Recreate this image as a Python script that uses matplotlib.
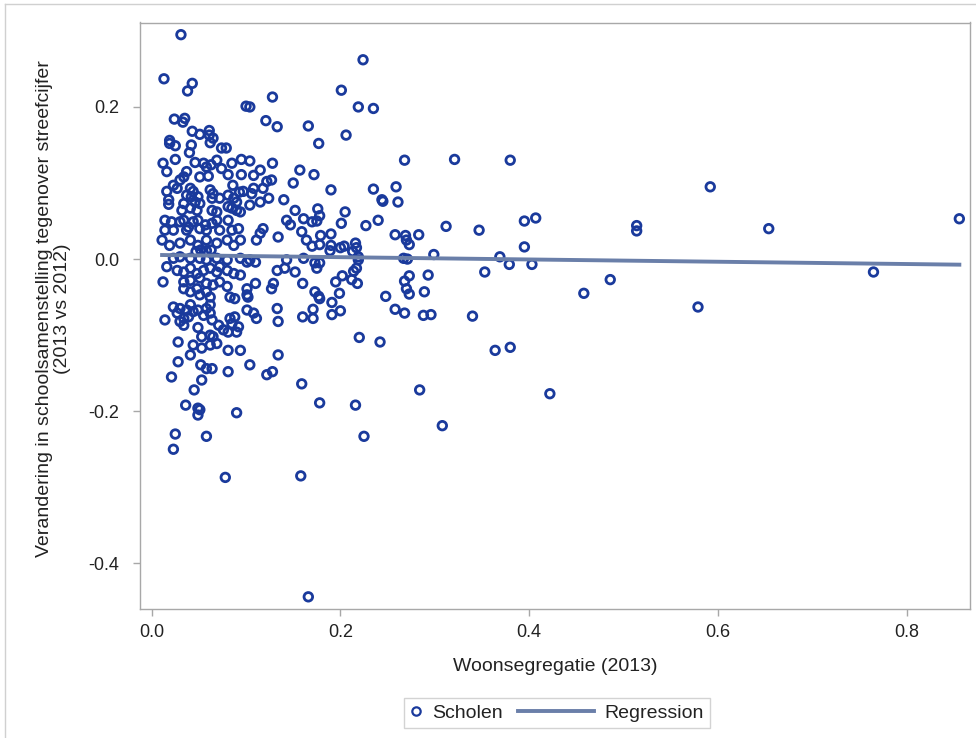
import matplotlib
matplotlib.use("Agg")
import matplotlib.pyplot as plt
import numpy as np
from matplotlib.legend_handler import HandlerLine2D
from matplotlib.lines import Line2D

plt.rcParams['font.family'] = ['Liberation Sans', 'DejaVu Sans']
plt.rcParams['axes.unicode_minus'] = False

# schools in groups
# x = Woonsegregatie (2013), y = change vs target (2013 vs 2012)
top_x = [0.031, 0.013, 0.043, 0.038, 0.128, 0.100, 0.104, 0.024, 0.035, 0.033,
         0.121, 0.133, 0.043, 0.051, 0.061, 0.061, 0.019, 0.065]
top_y = [0.295, 0.237, 0.231, 0.221, 0.213, 0.201, 0.200, 0.184, 0.185, 0.180,
         0.182, 0.174, 0.168, 0.164, 0.169, 0.163, 0.156, 0.159]

upper_x = [0.062, 0.019, 0.025, 0.042, 0.074, 0.079, 0.040, 0.025, 0.012, 0.016,
           0.046, 0.055, 0.058, 0.063, 0.069, 0.085, 0.095, 0.104, 0.128, 0.074,
           0.051, 0.060, 0.081, 0.095, 0.108, 0.115, 0.150, 0.122, 0.127, 0.108,
           0.086, 0.093, 0.030, 0.037, 0.034, 0.023, 0.027, 0.016, 0.018, 0.018,
           0.041, 0.044, 0.037, 0.042, 0.049, 0.046, 0.051, 0.062, 0.065, 0.064,
           0.072, 0.081, 0.097, 0.106, 0.118, 0.087, 0.090, 0.104, 0.115, 0.124,
           0.140, 0.064, 0.069, 0.081, 0.085, 0.090, 0.094, 0.034, 0.032, 0.041,
           0.048, 0.152, 0.143, 0.147, 0.118, 0.115, 0.134, 0.111]
upper_y = [0.153, 0.152, 0.149, 0.150, 0.146, 0.146, 0.140, 0.131, 0.126, 0.115,
           0.127, 0.126, 0.121, 0.124, 0.130, 0.126, 0.131, 0.129, 0.126, 0.119,
           0.108, 0.109, 0.111, 0.111, 0.110, 0.117, 0.100, 0.102, 0.104, 0.093,
           0.097, 0.088, 0.104, 0.115, 0.108, 0.097, 0.093, 0.089, 0.078, 0.072,
           0.093, 0.089, 0.084, 0.082, 0.082, 0.075, 0.073, 0.091, 0.086, 0.080,
           0.080, 0.084, 0.089, 0.086, 0.093, 0.080, 0.075, 0.071, 0.075, 0.080,
           0.078, 0.064, 0.062, 0.069, 0.067, 0.064, 0.062, 0.073, 0.064, 0.067,
           0.064, 0.064, 0.051, 0.045, 0.040, 0.034, 0.029, 0.025]

band_x = [0.014, 0.014, 0.021, 0.023, 0.030, 0.034, 0.037, 0.039, 0.044, 0.049,
          0.051, 0.057, 0.058, 0.064, 0.069, 0.072, 0.081, 0.085, 0.092, 0.094,
          0.011, 0.019, 0.030, 0.041, 0.049, 0.058, 0.069, 0.080, 0.087, 0.052,
          0.058, 0.063, 0.047]
band_y = [0.051, 0.038, 0.049, 0.038, 0.049, 0.051, 0.038, 0.042, 0.049, 0.051,
          0.040, 0.045, 0.038, 0.047, 0.051, 0.038, 0.051, 0.038, 0.040, 0.025,
          0.025, 0.018, 0.021, 0.025, 0.018, 0.025, 0.021, 0.025, 0.018, 0.012,
          0.011, 0.012, 0.010]

lower_x = [0.023, 0.030, 0.041, 0.051, 0.058, 0.069, 0.080, 0.094, 0.104, 0.110,
           0.143, 0.161, 0.016, 0.012, 0.027, 0.034, 0.041, 0.048, 0.055, 0.062,
           0.069, 0.072, 0.080, 0.087, 0.094, 0.101, 0.133, 0.141, 0.152, 0.129,
           0.127, 0.110, 0.101, 0.101, 0.102, 0.034, 0.041, 0.051, 0.058, 0.065,
           0.072, 0.080, 0.083, 0.088, 0.034, 0.041, 0.048, 0.051, 0.058, 0.062,
           0.023, 0.030, 0.027, 0.037, 0.041, 0.034, 0.030, 0.034, 0.039, 0.044,
           0.049, 0.058, 0.055, 0.062, 0.064, 0.071, 0.083, 0.088, 0.085, 0.092,
           0.090, 0.076, 0.081, 0.014, 0.062, 0.049, 0.053, 0.062, 0.065, 0.069,
           0.062, 0.028, 0.044, 0.041, 0.053, 0.028, 0.081, 0.094, 0.052, 0.058,
           0.064, 0.081, 0.104, 0.122, 0.128, 0.134, 0.133, 0.134, 0.101, 0.108,
           0.111, 0.021, 0.053]
lower_y = [0.001, 0.003, 0.001, 0.001, -0.001, 0.001, -0.001, 0.001, -0.001, -0.004,
           -0.001, 0.001, -0.010, -0.030, -0.015, -0.017, -0.012, -0.019, -0.015, -0.012,
           -0.017, -0.010, -0.015, -0.019, -0.021, -0.004, -0.015, -0.012, -0.017, -0.032,
           -0.039, -0.032, -0.039, -0.047, -0.050, -0.030, -0.028, -0.025, -0.032, -0.034,
           -0.030, -0.036, -0.050, -0.052, -0.039, -0.043, -0.039, -0.047, -0.043, -0.050,
           -0.063, -0.065, -0.071, -0.067, -0.060, -0.078, -0.082, -0.087, -0.076, -0.069,
           -0.067, -0.065, -0.074, -0.071, -0.080, -0.087, -0.078, -0.076, -0.085, -0.089,
           -0.096, -0.093, -0.096, -0.080, -0.060, -0.090, -0.102, -0.100, -0.102, -0.111,
           -0.113, -0.109, -0.113, -0.126, -0.117, -0.135, -0.120, -0.120, -0.139, -0.144,
           -0.144, -0.148, -0.139, -0.152, -0.148, -0.126, -0.065, -0.082, -0.067, -0.071,
           -0.078, -0.155, -0.159]

bottom_x = [0.045, 0.036, 0.049, 0.051, 0.049, 0.090, 0.025, 0.058, 0.023, 0.078,
            0.158, 0.166]
bottom_y = [-0.172, -0.192, -0.196, -0.198, -0.205, -0.202, -0.230, -0.233, -0.250, -0.287,
            -0.285, -0.444]

mid_up_x = [0.224, 0.201, 0.219, 0.235, 0.166, 0.206, 0.177, 0.268, 0.321, 0.380,
            0.157, 0.172, 0.190, 0.235, 0.259, 0.244, 0.245, 0.261, 0.176, 0.161,
            0.170, 0.178, 0.175, 0.205, 0.201, 0.227, 0.240, 0.312, 0.347, 0.395,
            0.407, 0.395, 0.159, 0.164, 0.179, 0.190, 0.170, 0.178, 0.190, 0.200,
            0.204, 0.216, 0.217, 0.258, 0.269, 0.270, 0.273, 0.283, 0.299, 0.369,
            0.219, 0.189, 0.213]
mid_up_y = [0.262, 0.222, 0.200, 0.198, 0.175, 0.163, 0.152, 0.130, 0.131, 0.130,
            0.117, 0.111, 0.091, 0.092, 0.095, 0.078, 0.076, 0.075, 0.066, 0.053,
            0.049, 0.057, 0.050, 0.062, 0.047, 0.044, 0.051, 0.043, 0.038, 0.050,
            0.054, 0.016, 0.036, 0.025, 0.031, 0.033, 0.017, 0.019, 0.018, 0.015,
            0.017, 0.021, 0.015, 0.032, 0.031, 0.025, 0.019, 0.032, 0.006, 0.003,
            0.003, 0.011, 0.010]

mid_down_x = [0.267, 0.271, 0.379, 0.403, 0.353, 0.293, 0.273, 0.268, 0.270, 0.273,
              0.289, 0.248, 0.258, 0.268, 0.288, 0.296, 0.340, 0.220, 0.242, 0.364,
              0.380, 0.284, 0.159, 0.178, 0.216, 0.308, 0.225, 0.422, 0.219, 0.217,
              0.214, 0.202, 0.212, 0.218, 0.195, 0.199, 0.191, 0.200, 0.191, 0.173,
              0.177, 0.178, 0.171, 0.171, 0.160, 0.160, 0.175, 0.173, 0.178]
mid_down_y = [0.001, 0.000, -0.007, -0.007, -0.017, -0.021, -0.022, -0.029, -0.039, -0.046,
              -0.043, -0.049, -0.066, -0.071, -0.074, -0.073, -0.075, -0.103, -0.109, -0.120,
              -0.116, -0.172, -0.164, -0.189, -0.192, -0.219, -0.233, -0.177, -0.001, -0.012,
              -0.016, -0.022, -0.027, -0.032, -0.030, -0.045, -0.057, -0.068, -0.073, -0.043,
              -0.049, -0.052, -0.066, -0.078, -0.076, -0.032, -0.012, -0.005, -0.005]

right_x = [0.458, 0.486, 0.514, 0.514, 0.579, 0.592, 0.654, 0.765, 0.856]
right_y = [-0.045, -0.027, 0.044, 0.037, -0.063, 0.095, 0.040, -0.017, 0.053]

# fit line as shown in the picture
reg_intercept = 0.0055
reg_slope = -0.0150

x = np.concatenate([top_x, upper_x, band_x, lower_x, bottom_x, mid_up_x, mid_down_x, right_x])
y = np.concatenate([top_y, upper_y, band_y, lower_y, bottom_y, mid_up_y, mid_down_y, right_y])

marker_col = '#1a3a9c'
line_col = '#6a7fa9'
frame_col = '#a8a8a8'
text_col = '#222222'

fig = plt.figure(figsize=(9.76, 7.38), dpi=100)
ax = fig.add_axes([140 / 976, 129 / 738, 830 / 976, 586.5 / 738])

ax.scatter(x, y, s=38, facecolors='none', edgecolors=marker_col, linewidths=2.0,
           zorder=3, label='Scholen')
xs = np.array([x.min(), x.max()])
ax.plot(xs, reg_intercept + reg_slope * xs, color=line_col, lw=2.8, zorder=4,
        label='Regression')

ax.set_xlim(-0.0124, 0.8673)
ax.set_ylim(-0.460, 0.311)
ax.set_xticks([0.0, 0.2, 0.4, 0.6, 0.8])
ax.set_yticks([-0.4, -0.2, 0.0, 0.2])
ax.xaxis.set_major_formatter(matplotlib.ticker.FormatStrFormatter('%.1f'))
ax.yaxis.set_major_formatter(matplotlib.ticker.FormatStrFormatter('%.1f'))
for s in ax.spines.values():
    s.set_color(frame_col)
    s.set_linewidth(1.0)
ax.tick_params(axis='both', direction='out', length=5, width=1, color=frame_col,
               labelsize=13, labelcolor=text_col)
ax.tick_params(axis='x', pad=6)
ax.tick_params(axis='y', pad=10)

ax.set_xlabel('Woonsegregatie (2013)', fontsize=14, color=text_col, labelpad=12)
fig.text(53.5 / 976, 0.582,
         'Verandering in schoolsamenstelling tegenover streefcijfer\n(2013 vs 2012)',
         rotation=90, ha='center', va='center', multialignment='center',
         fontsize=14, color=text_col, linespacing=1.15)


# legend: keep the marker entry narrow like the original
class NarrowHandler(HandlerLine2D):
    def legend_artist(self, legend, orig_handle, fontsize, handlebox):
        handlebox.width = 0.6 * fontsize
        return super().legend_artist(legend, orig_handle, fontsize, handlebox)


mk = Line2D([], [], ls='none', marker='o', ms=6, mfc='none', mec=marker_col, mew=1.6)
ln = Line2D([], [], color=line_col, lw=2.8)
fig.legend([mk, ln], ['Scholen', 'Regression'], ncol=2, loc='center',
           bbox_to_anchor=(557 / 976, 25 / 738), fontsize=14, frameon=True,
           fancybox=False, edgecolor='#c8c8c8', borderpad=0.3, handlelength=3.9,
           handletextpad=0.55, columnspacing=0.8, numpoints=1,
           handler_map={mk: NarrowHandler(numpoints=1)}, labelcolor=text_col)
fig.legends[0].get_frame().set_linewidth(1.0)

# outer border of the graph
fig.add_artist(Line2D([5 / 976, 5 / 976], [0, 734 / 738], color='#d0d0d0', lw=1))
fig.add_artist(Line2D([5 / 976, 1], [734 / 738, 734 / 738], color='#d0d0d0', lw=1))

fig.savefig('out.png', dpi=100)
